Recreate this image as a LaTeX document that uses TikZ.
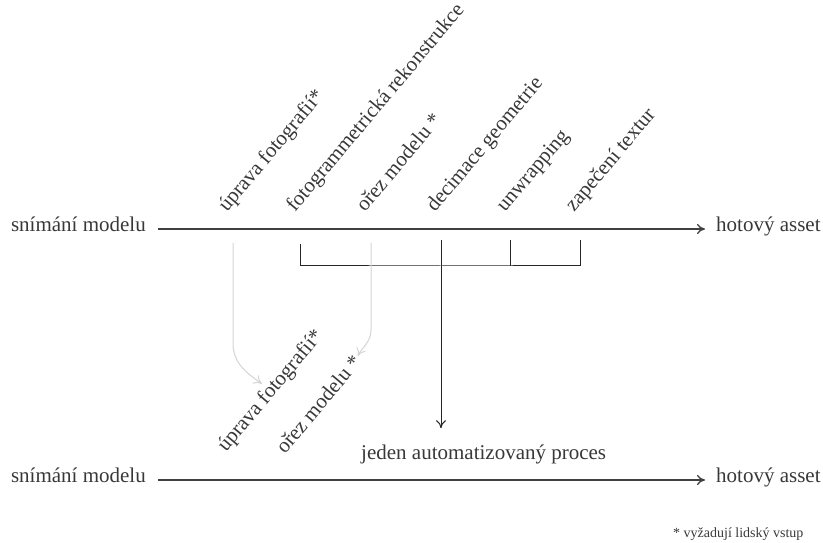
\documentclass[tikz,border=0pt]{standalone}
\usepackage{fontspec}
\setmainfont{Liberation Serif}
\usetikzlibrary{arrows.meta}

\begin{document}
\begin{tikzpicture}[x=1pt, y=1pt,
    txt/.style={inner sep=0pt, text=black!78, font=\fontsize{21}{25}\selectfont},
    steplabel/.style={txt, rotate=50, anchor=base west},
    tip/.style={-{To[length=8pt,width=10pt]}},
    flow/.style={draw=black!75, line width=1.3pt, tip},
    bracket/.style={draw=black!85, line width=1pt},
    manual/.style={draw=black!17, line width=1pt, tip, shorten >=2pt}]
    \useasboundingbox (0,0) rectangle (823,543);

    % ===== CURRENT PIPELINE (top) =====
    \node[txt, anchor=base east] (start1) at (146,311) {snímání modelu};
    \node[txt, anchor=base west] (end1) at (716,311) {hotový asset};
    \draw[flow] ([xshift=12pt,yshift=3pt]start1.base east) -- ([xshift=-11pt,yshift=3pt]end1.base west);

    % Steps along the line
    \foreach \x/\name/\step in {227/s1/úprava fotografií*, 295/s2/fotogrammetrická rekonstrukce,
        365/s3/ořez modelu *, 435/s4/decimace geometrie, 505/s5/unwrapping, 574/s6/zapečení textur}
        \node[steplabel] (\name) at (\x,330) {\step};

    % Ticks under the steps
    \coordinate (t1) at (233,300);
    \coordinate (t2) at (300,299);
    \coordinate (t3) at (371,300);
    \coordinate (t4) at (441,303);
    \coordinate (t5) at (510,303);
    \coordinate (t6) at (580,303);
    \coordinate (join) at (441,277);

    % ===== NEW PIPELINE (bottom) =====
    \node[txt, anchor=base east] (start2) at (146,60) {snímání modelu};
    \node[txt, anchor=base west] (end2) at (716,60) {hotový asset};
    \draw[flow] ([xshift=12pt,yshift=3pt]start2.base east) -- ([xshift=-11pt,yshift=3pt]end2.base west);

    \node[txt, anchor=base west] (auto) at (361,83) {jeden automatizovaný proces};
    \node[steplabel] (m1) at (226,90) {úprava fotografií*};
    \node[steplabel] (m2) at (285,88) {ořez modelu *};

    % Automated steps merged into one
    \draw[bracket] (t2) |- (join) -| (t6);
    \draw[bracket] (t5) -- (t5 |- join);
    \draw[bracket, tip] (t4) -- ([yshift=17pt]auto.north -| t4);

    % Manual steps kept
    \draw[manual] (t1) -- (233,200) to[out=-90, in=145] (m1.north);
    \draw[manual] (t3) -- (371,213) to[out=-90, in=65] (m2.east);

    % Footnote
    \node[txt, font=\fontsize{14}{16}\selectfont, anchor=base west] (note) at (673,5) {* vyžadují lidský vstup};
\end{tikzpicture}
\end{document}
